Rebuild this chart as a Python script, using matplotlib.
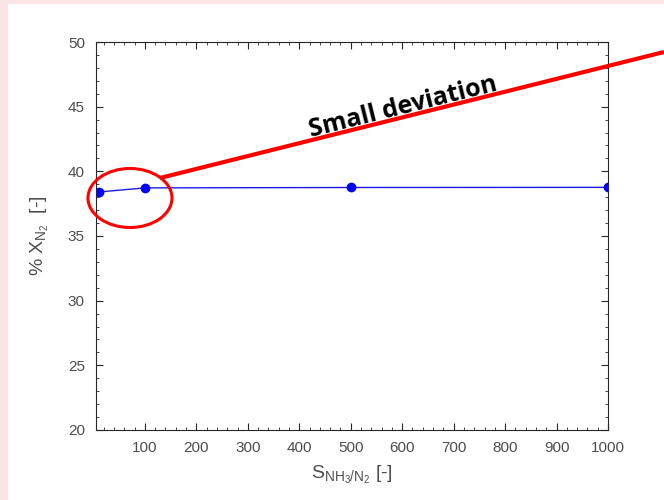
import matplotlib.pyplot as plt
from matplotlib.patches import Rectangle, Ellipse
from matplotlib.lines import Line2D
from matplotlib.ticker import MultipleLocator

plt.rcParams['font.family'] = ['Liberation Sans', 'DejaVu Sans']
plt.rcParams['mathtext.fontset'] = 'custom'
plt.rcParams['mathtext.rm'] = 'Liberation Sans'
plt.rcParams['mathtext.it'] = 'Liberation Sans'

# selectivity NH3/N2 vs. N2 fraction
s_ratio = [10, 100, 500, 1000]
x_n2 = [38.4, 38.72, 38.75, 38.76]

x_ticks = [100, 200, 300, 400, 500, 600, 700, 800, 900, 1000]
y_ticks = [20, 25, 30, 35, 40, 45, 50]

W, H = 664, 500
fig = plt.figure(figsize=(W / 100, H / 100), dpi=100, facecolor='#fbe4e6')

# white slide panel
fig.add_artist(Rectangle((8 / W, 0), 1, 1 - 4 / H, transform=fig.transFigure,
                         facecolor='white', edgecolor='none', zorder=0))

ax = fig.add_axes([96 / W, 1 - 430 / H, (608 - 96) / W, (430 - 42) / H])
ax.plot(s_ratio, x_n2, color='#1a1ae6', lw=1.0, marker='o', ms=6,
        markerfacecolor='#0000ff', markeredgecolor='#0000ff')

ax.set_xlim(5, 1000)
ax.set_ylim(20, 50)
ax.set_xticks(x_ticks)
ax.set_yticks(y_ticks)
ax.xaxis.set_minor_locator(MultipleLocator(20))
ax.yaxis.set_minor_locator(MultipleLocator(1))
ax.tick_params(which='both', direction='in', top=True, right=True,
               colors='#262626', labelcolor='#4d4d4d', labelsize=11)
ax.tick_params(which='major', length=5, width=0.8, pad=8)
ax.tick_params(which='minor', length=2.5, width=0.6)
for sp in ax.spines.values():
    sp.set_color('#262626')
    sp.set_linewidth(0.8)

ax.set_xlabel(r'$\mathrm{S_{NH_3/N_2}}$ [-]', fontsize=14, color='#4d4d4d',
              labelpad=6)
ax.set_ylabel(r'% $\mathrm{X_{N_2}}$  [-]', fontsize=14, color='#4d4d4d',
              labelpad=12)

# callout: circle around the first points and a pointer line
tf = fig.transFigure
fig.add_artist(Ellipse((130 / W, 1 - 198 / H), 84 / W, 59 / H, transform=tf,
                       fill=False, edgecolor='#ff0000', lw=2.2, zorder=5))
fig.add_artist(Line2D([160 / W, 664 / W], [1 - 178 / H, 1 - 52 / H],
                      transform=tf, color='#ff0000', lw=3.0, zorder=5,
                      solid_capstyle='butt'))
fig.text(403 / W, 1 - 107 / H, 'Small deviation', fontsize=18,
         fontweight='bold', family='Open Sans', rotation=14,
         ha='center', va='center', color='black')

fig.savefig('out.png', dpi=100, facecolor=fig.get_facecolor())
